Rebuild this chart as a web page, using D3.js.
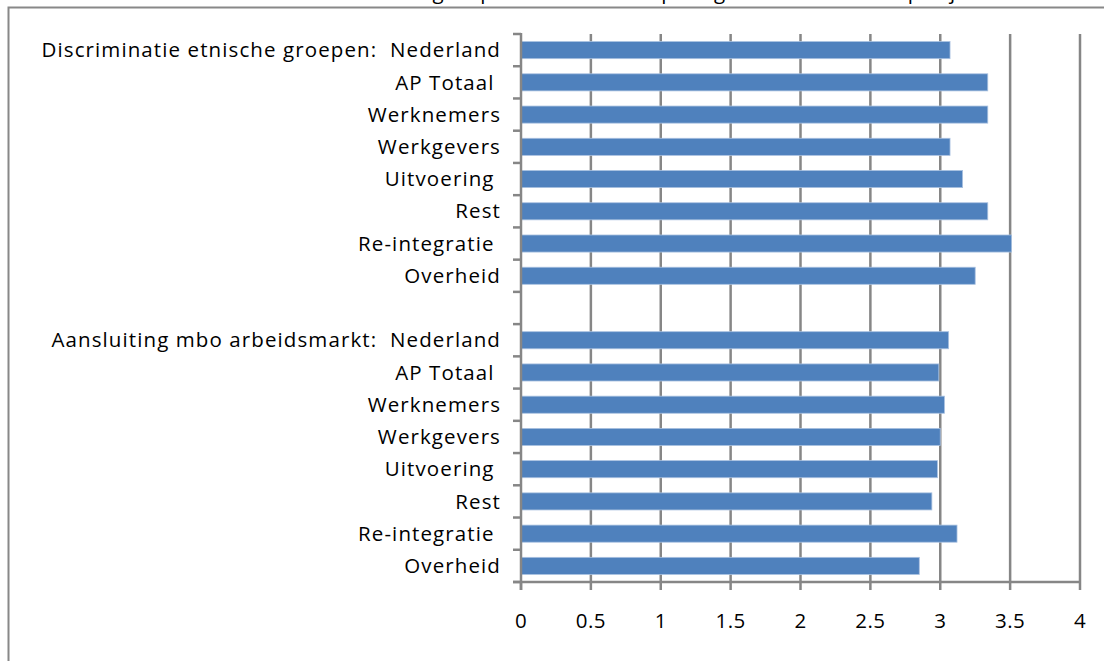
<!DOCTYPE html>
<html>
<head>
<meta charset="utf-8">
<script src="https://cdn.jsdelivr.net/npm/d3@7"></script>
<style>
  body { margin: 0; background: #fff; }
  svg text { font-family: "Open Sans", "Liberation Sans", sans-serif; fill: #000; white-space: pre; }
</style>
</head>
<body>
<div class="container"></div>
<script>
// labels, top to bottom ("" = empty slot between the two groups)
const labels = [
    'Discriminatie etnische groepen:  Nederland', 'AP Totaal ', 'Werknemers', 'Werkgevers',
    'Uitvoering ', 'Rest', 'Re-integratie ', 'Overheid',
    '',
    'Aansluiting mbo arbeidsmarkt:  Nederland', 'AP Totaal ', 'Werknemers', 'Werkgevers',
    'Uitvoering ', 'Rest', 'Re-integratie ', 'Overheid'
];
const discriminatie = [3.07, 3.34, 3.34, 3.07, 3.16, 3.34, 3.51, 3.25];
const aansluiting = [3.06, 2.99, 3.03, 3.00, 2.98, 2.94, 3.12, 2.85];
const xTicks = [0, 0.5, 1, 1.5, 2, 2.5, 3, 3.5, 4];
const title = 'Oordeel over aandacht voor groepen en onderwerpen: gemiddelde score per jaar';

const values = [...discriminatie, null, ...aansluiting];
const rows = labels.map((l, i) => ({ key: 'r' + i, label: l, value: values[i] }));

const width = 1104, height = 661;
const plotLeft = 521, plotRight = 1080, plotTop = 34, plotBottom = 582;

const svg = d3.select('.container').append('svg')
    .attr('width', width).attr('height', height);

// outer frame, cut off by the window on the right and bottom
svg.append('path')
    .attr('d', `M8.5,${height + 5} V7.5 H${width + 5}`)
    .attr('fill', 'none').attr('stroke', '#888').attr('stroke-width', 2);

// title, mostly above the visible area (as in the original)
svg.append('text')
    .attr('x', 560).attr('y', -1)
    .attr('text-anchor', 'middle')
    .attr('font-size', '20.5px')
    .attr('letter-spacing', '1.1px')
    .text(title);

const x = d3.scaleLinear().domain([0, 4]).range([plotLeft, plotRight]);
const y = d3.scaleBand().domain(rows.map(d => d.key)).range([plotTop, plotBottom]).paddingInner(0.47).paddingOuter(0.235);

// vertical gridlines
svg.append('g').selectAll('line')
    .data(xTicks.slice(1))
    .enter().append('line')
    .attr('x1', d => x(d)).attr('x2', d => x(d))
    .attr('y1', plotTop).attr('y2', plotBottom)
    .attr('stroke', '#868686').attr('stroke-width', 2.5);

// bars
svg.append('g').selectAll('rect')
    .data(rows.filter(d => d.value !== null))
    .enter().append('rect')
    .attr('x', x(0))
    .attr('y', d => y(d.key))
    .attr('width', d => x(d.value) - x(0))
    .attr('height', y.bandwidth())
    .attr('fill', '#4f81bd')
    .attr('stroke', '#a9c1e0').attr('stroke-width', 0.8);

// category axis with ticks at slot boundaries
const step = (plotBottom - plotTop) / rows.length;
svg.append('g').selectAll('line')
    .data(d3.range(rows.length + 1))
    .enter().append('line')
    .attr('x1', plotLeft - 8).attr('x2', plotLeft)
    .attr('y1', i => plotTop + i * step).attr('y2', i => plotTop + i * step)
    .attr('stroke', '#868686').attr('stroke-width', 2.5);
svg.append('line')
    .attr('x1', plotLeft).attr('x2', plotLeft).attr('y1', plotTop - 1).attr('y2', plotBottom + 8)
    .attr('stroke', '#868686').attr('stroke-width', 2.5);

svg.append('g').selectAll('text')
    .data(rows.filter(d => d.label !== ''))
    .enter().append('text')
    .attr('x', 501)
    .attr('y', d => y(d.key) + y.bandwidth() / 2)
    .attr('dy', '0.35em')
    .attr('text-anchor', 'end')
    .attr('font-size', '20.5px')
    .attr('letter-spacing', '1.1px')
    .text(d => d.label);

// value axis
svg.append('line')
    .attr('x1', plotLeft - 8).attr('x2', plotRight + 1).attr('y1', plotBottom).attr('y2', plotBottom)
    .attr('stroke', '#868686').attr('stroke-width', 2.5);
svg.append('g').selectAll('line')
    .data(xTicks)
    .enter().append('line')
    .attr('x1', d => x(d)).attr('x2', d => x(d))
    .attr('y1', plotBottom).attr('y2', plotBottom + 8)
    .attr('stroke', '#868686').attr('stroke-width', 2.5);
svg.append('g').selectAll('text')
    .data(xTicks)
    .enter().append('text')
    .attr('x', d => x(d))
    .attr('y', 621)
    .attr('dy', '0.35em')
    .attr('text-anchor', 'middle')
    .attr('font-size', '20.5px')
    .attr('letter-spacing', '0.5px')
    .text(d => d);
</script>
</body>
</html>
